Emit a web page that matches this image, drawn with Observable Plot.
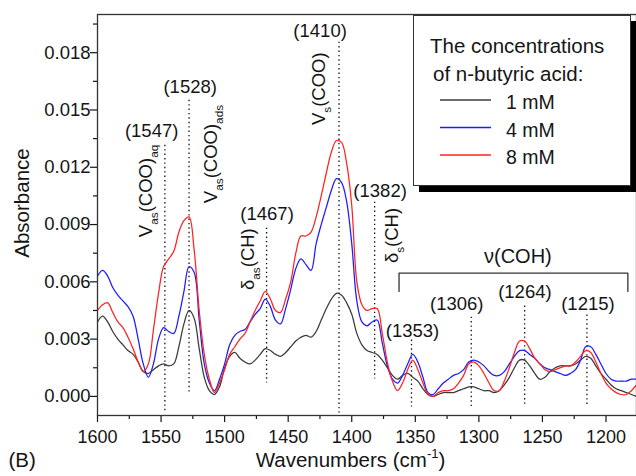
<!DOCTYPE html>
<html><head><meta charset="utf-8">
<script src="https://cdn.jsdelivr.net/npm/d3@7"></script>
<script src="https://cdn.jsdelivr.net/npm/@observablehq/plot@0.6"></script>
<style>
body{margin:0;background:#fff;}
#chart{position:relative;width:636px;height:476px;}
</style></head><body><div id="chart"></div>
<script>
// ---- data -------------------------------------------------------------
const wavenumbers = [1600,1596,1592,1588,1584,1580,1576,1572,1568,1564,
1560,1556,1552,1548,1544,1540,1536,1532,1528,1524,
1520,1516,1512,1508,1504,1500,1496,1492,1488,1484,
1480,1476,1472,1468,1464,1460,1456,1452,1448,1444,
1440,1436,1432,1428,1424,1420,1416,1412,1408,1404,
1400,1396,1392,1388,1384,1380,1376,1372,1368,1364,
1360,1356,1352,1348,1344,1340,1336,1332,1328,1324,
1320,1316,1312,1308,1304,1300,1296,1292,1288,1284,
1280,1276,1272,1268,1264,1260,1256,1252,1248,1244,
1240,1236,1232,1228,1224,1220,1216,1212,1208,1204,
1200,1196,1192,1188,1184,1180,1176];

const abs1mM = [.0039,.0042,.0039,.0034,.0030,.0027,.0024,.0022,.0018,.0013,
.0012,.0014,.0016,.0017,.0016,.0017,.0026,.0038,.0045,.0041,
.0025,.0010,.0003,.0001,.0005,.0015,.0021,.0023,.0020,.0018,
.0017,.0019,.0022,.0025,.0024,.0022,.0021,.0023,.0026,.0029,
.0031,.0032,.0031,.0034,.0040,.0046,.0051,.0054,.0053,.0049,
.0043,.0033,.0027,.0024,.0023,.0022,.0019,.0015,.0011,.0009,
.0011,.0012,.0010,.0008,.0004,.0001,.0000,.0001,.0002,.0002,
.0002,.0003,.0004,.0005,.0005,.0004,.0003,.0003,.0002,.0003,
.0006,.0010,.0015,.0019,.0019,.0016,.0012,.0009,.0010,.0013,
.0015,.0016,.0016,.0016,.0017,.0019,.0021,.0020,.0016,.0012,
.0009,.0006,.0004,.0003,.0002,.0001,.0000];

const abs4mM = [.0063,.0066,.0063,.0057,.0053,.0050,.0047,.0042,.0030,.0017,
.0010,.0017,.0030,.0036,.0034,.0033,.0042,.0055,.0068,.0065,
.0040,.0017,.0007,.0003,.0009,.0017,.0027,.0032,.0034,.0035,
.0039,.0043,.0046,.0051,.0047,.0040,.0038,.0046,.0056,.0067,
.0072,.0069,.0066,.0080,.0090,.0099,.0108,.0114,.0112,.0102,
.0080,.0050,.0039,.0037,.0039,.0040,.0028,.0016,.0009,.0007,
.0011,.0017,.0022,.0018,.0010,.0002,.0001,.0004,.0007,.0009,
.0011,.0012,.0014,.0018,.0019,.0018,.0016,.0013,.0011,.0011,
.0013,.0017,.0021,.0024,.0024,.0022,.0020,.0017,.0015,.0014,
.0013,.0012,.0011,.0012,.0014,.0019,.0026,.0026,.0022,.0017,
.0012,.0009,.0008,.0008,.0008,.0009,.0009];

const abs8mM = [.0045,.0048,.0049,.0044,.0039,.0036,.0031,.0025,.0018,.0013,
.0017,.0035,.0054,.0068,.0072,.0076,.0086,.0092,.0094,.0077,
.0045,.0022,.0009,.0002,.0007,.0014,.0022,.0026,.0030,.0033,
.0039,.0045,.0050,.0055,.0051,.0045,.0044,.0051,.0060,.0075,
.0084,.0084,.0086,.0094,.0105,.0117,.0128,.0134,.0133,.0122,
.0100,.0060,.0048,.0045,.0046,.0046,.0033,.0018,.0008,.0003,
.0007,.0014,.0019,.0014,.0007,.0001,.0000,.0002,.0003,.0003,
.0004,.0007,.0011,.0017,.0018,.0016,.0012,.0007,.0003,.0003,
.0008,.0015,.0023,.0029,.0029,.0025,.0020,.0017,.0014,.0013,
.0014,.0015,.0016,.0016,.0018,.0021,.0024,.0023,.0018,.0012,
.0007,.0004,.0002,.0001,.0001,.0003,.0006];

const seriesNames = ["1 mM", "4 mM", "8 mM"];
const seriesColors = ["#3a3a3a", "#1c1cff", "#ff2222"];

const xMajorTicks = [1600,1550,1500,1450,1400,1350,1300,1250,1200];
const xMinorTicks = [1575,1525,1475,1425,1375,1325,1275,1225];
const yMajorTicks = [0,0.003,0.006,0.009,0.012,0.015,0.018];
const yMinorTicks = [0.0015,0.0045,0.0075,0.0105,0.0135,0.0165,0.0195];

// peak annotations
const peakWn      = [1547,1528,1467,1410,1382,1353,1306,1264,1215];
const peakTop     = [0.01315,0.01551,0.00881,0.01855,0.01017,0.00295,0.00415,0.00473,0.00426];
const peakBottom  = [-0.00082,0.00007,0.0007,-0.00087,0.00091,-0.00056,-0.00056,-0.00056,-0.00046];
const peakLabelX  = [1557.4,1527.1,1466.6,1424.9,1377.7,1352.2,1317.4,1263.8,1214.2];
const peakLabelY  = [0.01358,0.0159,0.00923,0.01881,0.01044,0.0031,0.00452,0.00515,0.00452];

// vibration band labels (rotated)
const bandText = ["V_{as}(COO)_{aq}", "V_{as}(COO)_{ads}", "V_{s}(COO)", "δ_{as}(CH)", "δ_{s}(CH)"];
const bandX    = [1557.2, 1506.3, 1421.0, 1476.8, 1363.6];
const bandY    = [0.00834, 0.01012, 0.01421, 0.00557, 0.00698];

// ν(COH) bracket
const cohText = ["ν(COH)"];
const cohX = [1269.3];
const cohY = [0.00698];
const bracketX = [1362.8, 1362.8, 1182.8, 1182.8];
const bracketY = [0.0055, 0.00646, 0.00646, 0.0055];

const legendTitle = ["The concentrations", "of n-butyric acid:"];
const xTitle = "Wavenumbers (cm^{-1})";
const yTitle = "Absorbance";
const panelTag = "(B)";

// ---- build ------------------------------------------------------------
const seriesValues = [abs1mM, abs4mM, abs8mM];
const rows = seriesNames.flatMap((s, k) =>
  wavenumbers.map((w, i) => ({series: s, wn: w, abs: seriesValues[k][i]})));

const FONT = "'Liberation Sans', Arial, Helvetica, sans-serif";
const ink = "#151515";

const plot = Plot.plot({
  width: 636, height: 476,
  marginLeft: 97, marginRight: 0, marginTop: 14, marginBottom: 61,
  x: {domain: [1600, 1176]},
  y: {domain: [-0.001, 0.020]},
  color: {domain: seriesNames, range: seriesColors},
  style: {fontFamily: FONT, fontSize: "18px", color: ink, background: "#fff"},
  marks: [
    Plot.axisY({ticks: yMajorTicks, tickFormat: d3.format(".3f"), tickSize: 7, tickPadding: 0, label: null, fontSize: 18.5, strokeWidth: 1.2}),
    Plot.axisY({ticks: yMinorTicks, tickFormat: () => "", tickSize: 4, label: null, strokeWidth: 1.2}),
    Plot.axisX({ticks: xMajorTicks, tickFormat: d => String(d), tickSize: 7, tickPadding: 8, label: null, fontSize: 18, strokeWidth: 1.2}),
    Plot.axisX({ticks: xMinorTicks, tickFormat: () => "", tickSize: 4, label: null, strokeWidth: 1.2}),
    Plot.ruleX(peakWn, {x: d => d, y1: peakTop, y2: peakBottom, stroke: "#111", strokeWidth: 1.3, strokeDasharray: "1.4,3"}),
    Plot.line(rows, {x: "wn", y: "abs", stroke: "series", curve: "catmull-rom", strokeWidth: 1.25}),
    Plot.line(bracketX, {x: bracketX, y: bracketY, stroke: "#333", strokeWidth: 1.3}),
    Plot.text(peakWn, {x: peakLabelX, y: peakLabelY, text: peakWn.map(w => `(${w})`), lineAnchor: "bottom", textAnchor: "middle", fontSize: 18.5, fill: ink}),
    Plot.text(bandText, {x: bandX, y: bandY, text: d => d, rotate: -90, textAnchor: "start", lineAnchor: "bottom", fontSize: 18.5, fill: ink}),
    Plot.text(cohText, {x: cohX, y: cohY, text: d => d, textAnchor: "middle", lineAnchor: "bottom", fontSize: 20, fill: ink}),
    Plot.text([yTitle], {frameAnchor: "left", rotate: -90, textAnchor: "middle", lineAnchor: "bottom", dx: -69, dy: -12, fontSize: 20.5, fill: ink}),
    Plot.text([xTitle], {frameAnchor: "bottom", textAnchor: "middle", lineAnchor: "bottom", dx: -16.5, dy: 51, fontSize: 20.5, fill: ink}),
    Plot.text([panelTag], {frameAnchor: "bottom-left", textAnchor: "start", lineAnchor: "bottom", dx: -89, dy: 51, fontSize: 20.5, fill: ink}),
    Plot.frame({stroke: "#333", strokeWidth: 1.3})
  ]
});

document.getElementById("chart").appendChild(plot);

// rich text: _{sub} and ^{sup}
plot.querySelectorAll("text").forEach(t => {
  const src = t.textContent;
  if (!/[_^]\{/.test(src)) return;
  const fs = parseFloat(getComputedStyle(t).fontSize) || 18;
  const parts = [];
  const re = /([_^])\{([^}]*)\}/g;
  let last = 0, m;
  while ((m = re.exec(src))) {
    if (m.index > last) parts.push({s: src.slice(last, m.index), k: 0});
    parts.push({s: m[2], k: m[1] === "_" ? 1 : -1});
    last = re.lastIndex;
  }
  if (last < src.length) parts.push({s: src.slice(last), k: 0});
  t.textContent = "";
  let cur = 0;
  for (const p of parts) {
    const sp = document.createElementNS("http://www.w3.org/2000/svg", "tspan");
    const off = p.k === 1 ? 0.34 * fs : p.k === -1 ? -0.42 * fs : 0;
    if (off !== cur) sp.setAttribute("dy", (off - cur).toFixed(2));
    if (p.k) sp.setAttribute("font-size", (0.64 * fs).toFixed(1));
    cur = off;
    sp.textContent = p.s;
    t.appendChild(sp);
  }
});

// legend box with drop shadow
const lg = d3.select(plot).append("g").attr("font-family", FONT).attr("fill", ink).attr("text-anchor", "start");
lg.append("rect").attr("x", 419).attr("y", 21).attr("width", 217).attr("height", 171).attr("fill", "#000");
lg.append("rect").attr("x", 413.5).attr("y", 15.5).attr("width", 217).attr("height", 170)
  .attr("fill", "#fff").attr("stroke", "#333").attr("stroke-width", 1);
lg.selectAll("text.title").data(legendTitle).join("text").attr("class", "title")
  .attr("text-anchor", "start")
  .attr("x", (d, i) => 430 + i * 3).attr("y", (d, i) => 53 + i * 28)
  .attr("font-size", 20.5).text(d => d);
const items = lg.selectAll("g.item").data(seriesNames).join("g").attr("class", "item")
  .attr("transform", (d, i) => `translate(0,${100 + i * 27.5})`);
items.append("line").attr("x1", 440).attr("x2", 491).attr("y1", 0).attr("y2", 0)
  .attr("stroke", (d, i) => seriesColors[i]).attr("stroke-width", 1.3);
items.append("text").attr("text-anchor", "start").attr("x", 506).attr("y", 9).attr("font-size", 19.5).text(d => d);
</script>
</body></html>
